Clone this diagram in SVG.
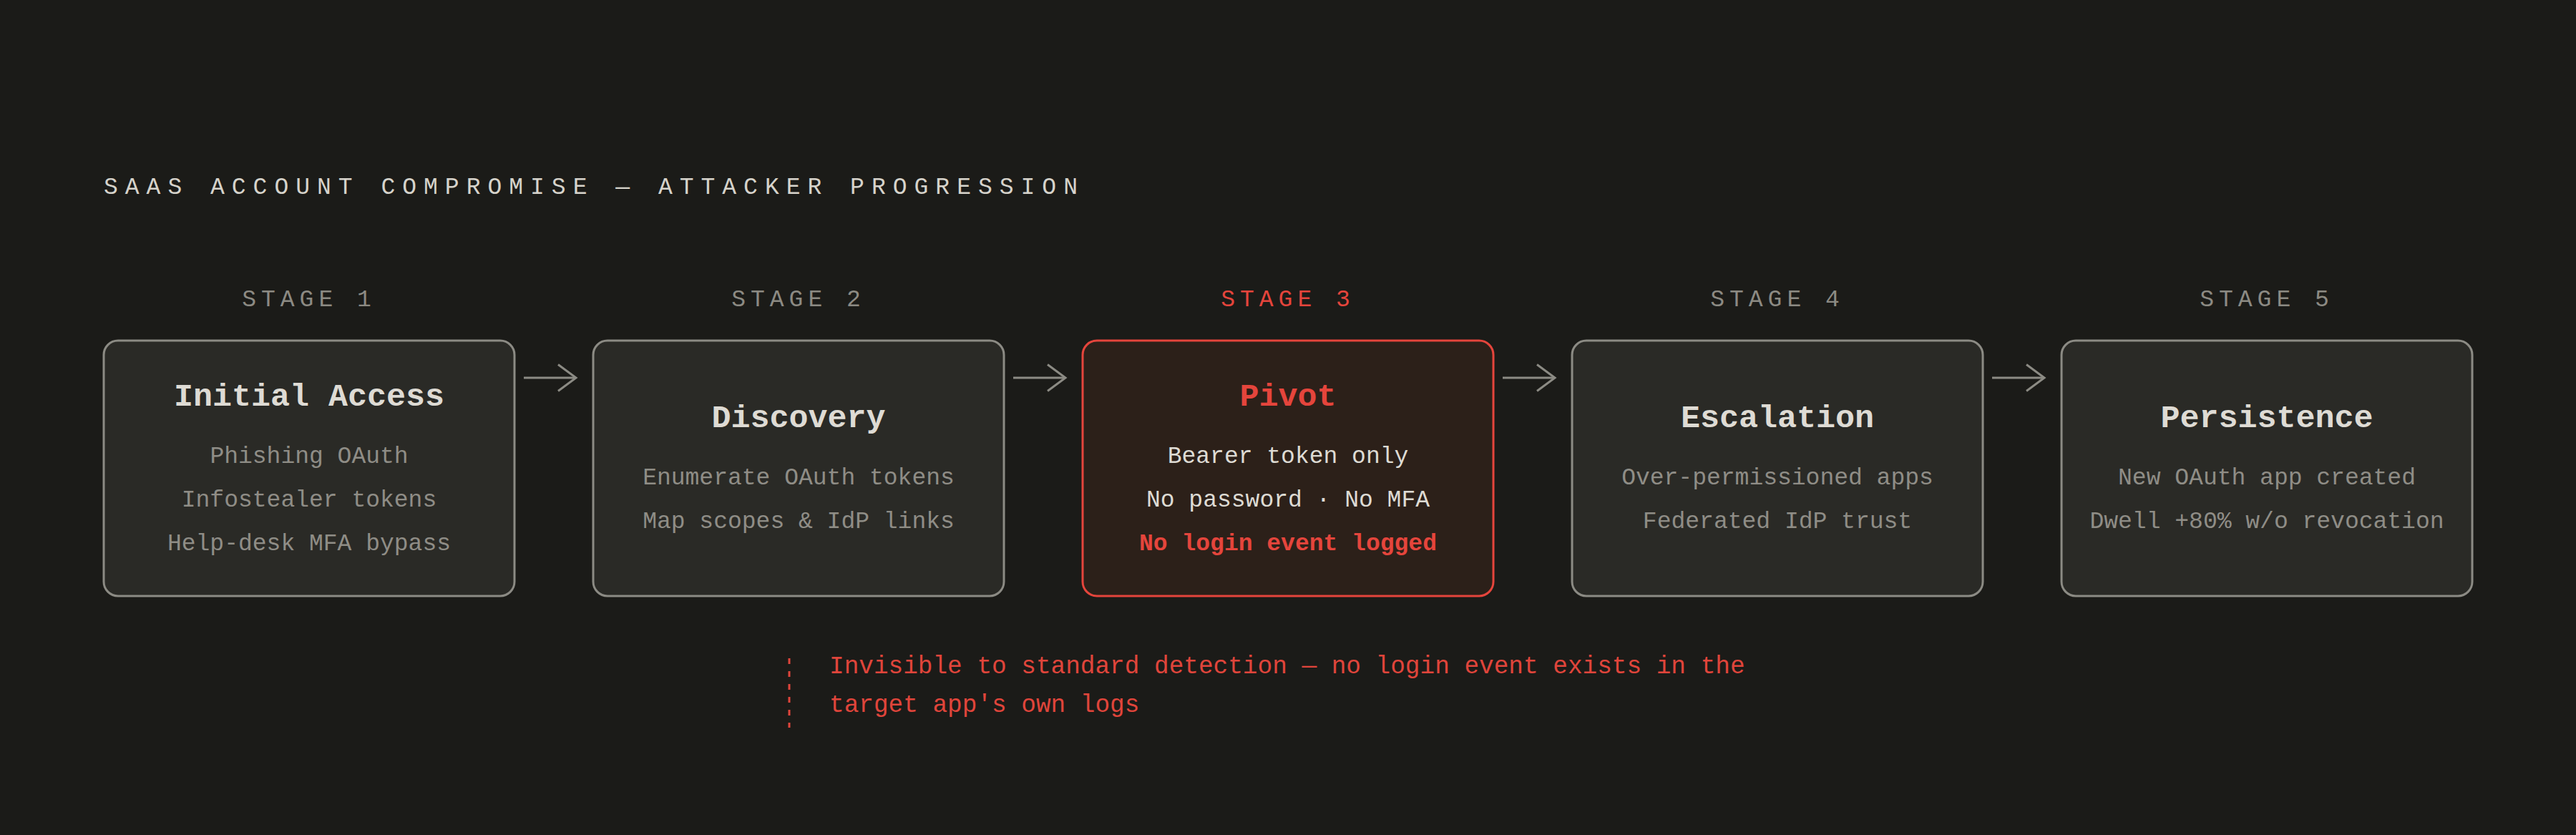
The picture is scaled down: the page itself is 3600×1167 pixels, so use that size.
<svg xmlns="http://www.w3.org/2000/svg" width="3600" height="1167" viewBox="0 0 3600 1167">
<defs>
<style>
text{font-family:"Liberation Mono","DejaVu Sans Mono",monospace}
.title{font-size:33px;letter-spacing:10px;fill:#d6d3cb}
.stage{font-size:33px;letter-spacing:7px;fill:#8c8a83;text-anchor:middle}
.stage.hot{fill:#e5453c}
.box{fill:#2a2a26;stroke:#8c8b84;stroke-width:3}
.box.hot{fill:#2c2019;stroke:#e5453c}
.h{font-size:45px;font-weight:bold;fill:#dedbd4;text-anchor:middle}
.h.hot{fill:#e5453c}
.b{font-size:33px;fill:#8f8d86;text-anchor:middle}
.b.lt{fill:#dedbd4}
.b.hot{fill:#e5453c;font-weight:bold}
.conn{fill:none;stroke:#8c8b84;stroke-width:3}
.note{font-size:34.4px;fill:#e0453b}
</style>
<marker id="chev" viewBox="-27 -20 30 40" markerWidth="30" markerHeight="40" refX="0" refY="0" orient="auto" markerUnits="userSpaceOnUse">
<path d="M-25,-18.5 L0,0 L-25,18.5" fill="none" stroke="#8c8b84" stroke-width="3"/>
</marker>
</defs>
<rect width="3600" height="1167" fill="#1b1b18"/>
<text class="title" x="145" y="271">SAAS ACCOUNT COMPROMISE — ATTACKER PROGRESSION</text>

<g id="stage1">
<text class="stage" x="432" y="428">STAGE 1</text>
<rect class="box" x="145" y="476" width="574" height="357" rx="20"/>
<text class="h" x="432" y="567">Initial Access</text>
<text class="b" x="432" y="647">Phishing OAuth</text>
<text class="b" x="432" y="708">Infostealer tokens</text>
<text class="b" x="432" y="769">Help-desk MFA bypass</text>
</g>

<g id="stage2">
<text class="stage" x="1116" y="428">STAGE 2</text>
<rect class="box" x="829" y="476" width="574" height="357" rx="20"/>
<text class="h" x="1116" y="597">Discovery</text>
<text class="b" x="1116" y="677">Enumerate OAuth tokens</text>
<text class="b" x="1116" y="738">Map scopes &amp; IdP links</text>
</g>

<g id="stage3">
<text class="stage hot" x="1800" y="428">STAGE 3</text>
<rect class="box hot" x="1513" y="476" width="574" height="357" rx="20"/>
<text class="h hot" x="1800" y="567">Pivot</text>
<text class="b lt" x="1800" y="647">Bearer token only</text>
<text class="b lt" x="1800" y="708">No password · No MFA</text>
<text class="b hot" x="1800" y="769">No login event logged</text>
</g>

<g id="stage4">
<text class="stage" x="2484" y="428">STAGE 4</text>
<rect class="box" x="2197" y="476" width="574" height="357" rx="20"/>
<text class="h" x="2484" y="597">Escalation</text>
<text class="b" x="2484" y="677">Over-permissioned apps</text>
<text class="b" x="2484" y="738">Federated IdP trust</text>
</g>

<g id="stage5">
<text class="stage" x="3168" y="428">STAGE 5</text>
<rect class="box" x="2881" y="476" width="574" height="357" rx="20"/>
<text class="h" x="3168" y="597">Persistence</text>
<text class="b" x="3168" y="677">New OAuth app created</text>
<text class="b" x="3168" y="738">Dwell +80% w/o revocation</text>
</g>

<g id="connectors">
<path class="conn" d="M732,528 H805" marker-end="url(#chev)"/>
<path class="conn" d="M1416,528 H1489" marker-end="url(#chev)"/>
<path class="conn" d="M2100,528 H2173" marker-end="url(#chev)"/>
<path class="conn" d="M2784,528 H2857" marker-end="url(#chev)"/>
</g>

<g id="annotation">
<line x1="1103" y1="920" x2="1103" y2="1017" stroke="#e0453b" stroke-width="3" stroke-dasharray="8 10"/>
<text class="note" x="1159" y="941">Invisible to standard detection — no login event exists in the</text>
<text class="note" x="1159" y="995">target app's own logs</text>
</g>
</svg>
